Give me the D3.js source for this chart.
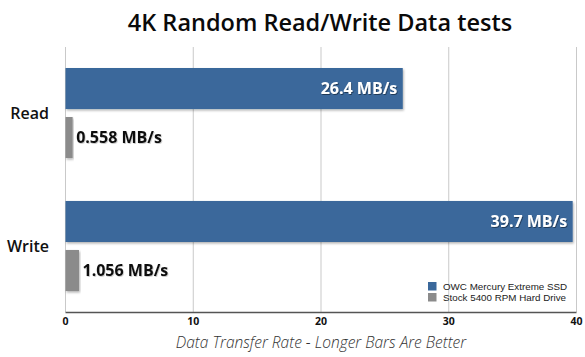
<!DOCTYPE html>
<html>
<head>
<meta charset="utf-8">
<script src="https://cdn.jsdelivr.net/npm/d3@7"></script>
<style>
  html, body { margin: 0; padding: 0; background: #fff; }
  svg { display: block; }
</style>
</head>
<body>
<svg id="chart" width="585" height="357"></svg>
<script>
const categories = ["Read", "Write"];
const seriesNames = ["OWC Mercury Extreme SSD", "Stock 5400 RPM Hard Drive"];
const ssdValues = [26.4, 39.7];
const hddValues = [0.558, 1.056];
const valueLabels = [["26.4 MB/s", "0.558 MB/s"], ["39.7 MB/s", "1.056 MB/s"]];
const xTicks = [0, 10, 20, 30, 40];
const colors = ["#3a689b", "#8b8b8b"];

const svg = d3.select("#chart");
const m = { left: 65, right: 576, top: 47, bottom: 312 };

const defs = svg.append("defs");
const sh = defs.append("filter").attr("id", "barShadow").attr("x", "-5%").attr("y", "-10%").attr("width", "115%").attr("height", "130%");
sh.append("feDropShadow").attr("dx", 1).attr("dy", 1.5).attr("stdDeviation", 0.8).attr("flood-color", "#000").attr("flood-opacity", 0.3);
const ts = defs.append("filter").attr("id", "textShadow").attr("x", "-10%").attr("y", "-20%").attr("width", "120%").attr("height", "150%");
ts.append("feDropShadow").attr("dx", 0.8).attr("dy", 1).attr("stdDeviation", 0.6).attr("flood-color", "#000").attr("flood-opacity", 0.45);
const ts2 = defs.append("filter").attr("id", "textShadowLight").attr("x", "-10%").attr("y", "-20%").attr("width", "120%").attr("height", "150%");
ts2.append("feDropShadow").attr("dx", 0.8).attr("dy", 1).attr("stdDeviation", 0.6).attr("flood-color", "#000").attr("flood-opacity", 0.2);

const x = d3.scaleLinear().domain([0, 40]).range([m.left, m.right]);
const y0 = d3.scaleBand().domain(categories).range([m.top, m.bottom]).paddingInner(0.323).paddingOuter(0.158);
const y1 = d3.scaleBand().domain([0, 1]).range([0, y0.bandwidth()]).paddingInner(0.163);

// title
svg.append("text").attr("x", 320).attr("y", 31).attr("text-anchor", "middle")
  .attr("font-family", "'Open Sans', sans-serif").attr("font-weight", 600).attr("font-size", 23.5)
  .attr("fill", "#0a0a0a").text("4K Random Read/Write Data tests");

// gridlines
svg.append("g").selectAll("line").data(xTicks).join("line")
  .attr("x1", d => x(d) + 0.5).attr("x2", d => x(d) + 0.5)
  .attr("y1", m.top).attr("y2", m.bottom)
  .attr("stroke", "#c9c9c9").attr("stroke-width", 1);

// x axis
const xAxis = d3.axisBottom(x).tickValues(xTicks).tickSize(0).tickPadding(6).tickFormat(d3.format("d"));
const ax = svg.append("g").attr("transform", `translate(0,${m.bottom})`).call(xAxis);
ax.select(".domain").attr("stroke", "#555").attr("stroke-width", 1.6);
ax.selectAll("text").attr("font-family", "'Open Sans', sans-serif").attr("font-weight", 700)
  .attr("font-size", 10.5).attr("fill", "#111");

// bars
const data = categories.map((c, i) => ({ cat: c, vals: [ssdValues[i], hddValues[i]], labels: valueLabels[i] }));
const groups = svg.append("g").selectAll("g").data(data).join("g")
  .attr("transform", d => `translate(0,${y0(d.cat)})`);

groups.selectAll("rect").data(d => d.vals.map((v, j) => ({ v, j }))).join("rect")
  .attr("x", x(0) + 0.5).attr("y", d => y1(d.j))
  .attr("width", d => x(d.v) - x(0)).attr("height", y1.bandwidth())
  .attr("fill", d => colors[d.j]).attr("filter", "url(#barShadow)");

groups.each(function(d) {
  const g = d3.select(this);
  d.vals.forEach((v, j) => {
    const inside = j === 0;
    g.append("text")
      .attr("x", inside ? x(v) - 5 : x(v) + 4)
      .attr("y", y1(j) + y1.bandwidth() / 2)
      .attr("dy", "0.35em")
      .attr("text-anchor", inside ? "end" : "start")
      .attr("font-family", "'Open Sans', sans-serif").attr("font-weight", 700).attr("font-size", 16)
      .attr("fill", inside ? "#fff" : "#111")
      .attr("filter", inside ? "url(#textShadow)" : "url(#textShadowLight)")
      .text(d.labels[j]);
  });
});

// category labels
svg.append("g").selectAll("text").data(categories).join("text")
  .attr("x", 49).attr("y", d => y0(d) + y0.bandwidth() / 2).attr("dy", "0.35em")
  .attr("text-anchor", "end")
  .attr("font-family", "'Open Sans', sans-serif").attr("font-weight", 600).attr("font-size", 16)
  .attr("fill", "#111").text(d => d);

// legend
const lg = svg.append("g").attr("transform", "translate(428,282)");
seriesNames.forEach((s, i) => {
  lg.append("rect").attr("x", 0).attr("y", i * 11).attr("width", 8.5).attr("height", 8.5).attr("fill", colors[i]);
  lg.append("text").attr("x", 15).attr("y", i * 11 + 4.5).attr("dy", "0.35em")
    .attr("font-family", "'Liberation Sans', Arial, sans-serif").attr("font-size", 9.8)
    .attr("fill", "#222").text(s);
});

// axis title
svg.append("text").attr("x", 321).attr("y", 348).attr("text-anchor", "middle")
  .attr("font-family", "'Open Sans', sans-serif").attr("font-style", "italic").attr("font-weight", 300)
  .attr("font-size", 15.5).attr("fill", "#333").text("Data Transfer Rate - Longer Bars Are Better");
</script>
</body>
</html>
